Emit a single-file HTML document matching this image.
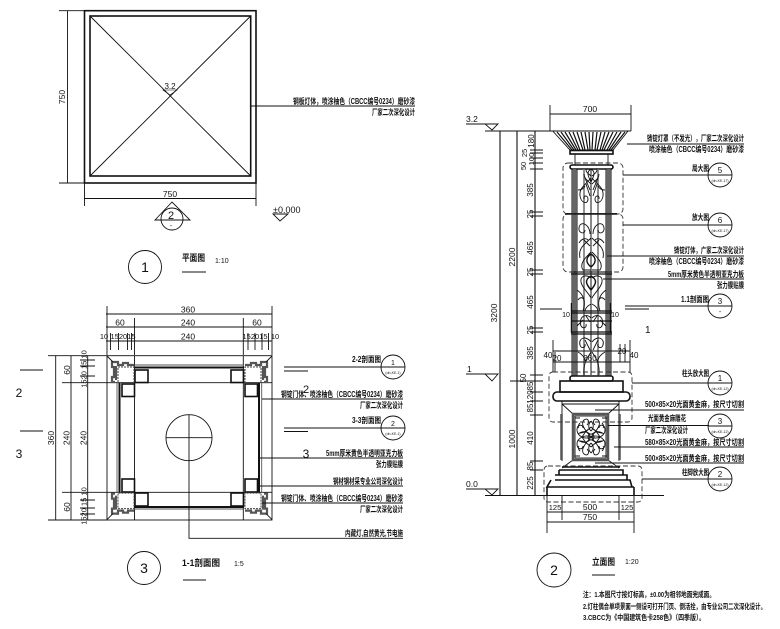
<!DOCTYPE html>
<html><head><meta charset="utf-8"><style>
html,body{margin:0;padding:0;background:#fff}
svg{display:block;filter:blur(.3px)}
line,path,rect,circle,polyline,polygon{fill:none;stroke:#111;stroke-width:.9}
text{fill:#111;font-family:"Liberation Sans","Noto Sans CJK SC",sans-serif;font-size:8.5px}
.c{font-family:"Liberation Sans","Noto Sans CJK SC",sans-serif;font-size:8px;font-weight:700;text-anchor:end}
.m{text-anchor:middle}
.n{font-size:14px;text-anchor:middle}
.s{font-size:3.5px;text-anchor:middle}
.th{stroke-width:1.6}
.d{stroke-dasharray:5 2.5;stroke:#333}
.g{stroke:#555;stroke-width:2.2}
</style></head><body>
<svg width="780" height="629" viewBox="0 0 780 629" xmlns="http://www.w3.org/2000/svg">
<defs>
<g id="post">
<path class="g" d="M111 362h7v3h5v-2h5v2h6M112 362v5h2v10h-2v5h3M116 366v14"/>
<rect x="118" y="367" width="16" height="15.5" style="stroke:#444;stroke-width:1" stroke-dasharray="2 1"/>
<line x1="107" y1="356" x2="113" y2="362"/>
</g>
<g id="rib">
<path d="M591 176C586 172 585 170 587 169M591 178C585 185 579 188 580 196C581 203 588 205 588 199C588 195 583 195 584 199M591 184C587 180 584 178 584 174M578 190C582 190 584 188 585 186M590 190L585 178M590 196L586 184"/>
<path d="M590 234C590 224 580 220 579 228C578 233 585 235 585 230M591 238C584 245 578 248 580 258M591 252C585 258 579 264 583 270H591M579 243C582 238 586 238 588 240M590 246L584 240"/>
<path d="M591 278C586 274 580 276 581 282C582 288 588 292 591 298M577 290C584 295 586 302 583 311M591 304C587 306 585 309 585 311M578 300C580 297 583 297 584 300"/>
<path d="M591 318C585 312 578 318 581 326C583 329 587 328 586 324M577 326L583 320M590 322L586 316"/>
<path d="M591 342C586 335 578 338 580 345C581 349 586 348 585 344M591 352C587 358 583 364 584 375M578 352C582 354 585 358 586 362M590 350L585 340"/>
</g>
<g id="orn">
<path d="M591 437C585 430 580 424 584 420C588 417 590 422 587 425M591 437C585 440 577 436 577 430C577 424 583 424 583 428M578 440C582 443 586 443 590 440M575 418L580 418M591 427C587 431 584 433 580 433M591 421C588 424 588 428 591 431M580 423C578 425 578 427 579 428M586 431L582 437"/>
</g>
</defs>

<!-- PLAN 1 -->
<rect x="84.5" y="10.7" width="171.5" height="172.3" class="th"/>
<rect x="90" y="16" width="160.7" height="160" class="th"/>
<path d="M90 16L250.7 176M250.7 16L90 176"/>
<line x1="59" y1="10.7" x2="84" y2="10.7"/><line x1="59" y1="183" x2="84" y2="183"/>
<line x1="67.5" y1="10.7" x2="67.5" y2="183"/>
<line x1="84.5" y1="183" x2="84.5" y2="206"/><line x1="256" y1="183" x2="256" y2="206"/>
<line x1="84" y1="198.5" x2="256" y2="198.5"/>
<text class="m" x="170" y="197">750</text>
<text class="m" transform="rotate(-90 65 97)" x="65" y="97">750</text>
<text class="m" x="170" y="89" style="font-size:8px">3.2</text>
<path d="M163 90H177L170 95Z" style="stroke-width:.6"/>
<line x1="251" y1="106" x2="415" y2="106"/>
<text class="c" x="415" y="104" textLength="122" lengthAdjust="spacingAndGlyphs">钢板灯体，喷涂柚色（CBCC编号0234）磨砂漆</text>
<text class="c" x="415" y="115" textLength="43" lengthAdjust="spacingAndGlyphs">厂家二次深化设计</text>
<path d="M172 202L155 220H190Z"/>
<circle cx="172" cy="219" r="11"/>
<text class="m" x="171" y="219" style="font-size:11px">2</text>
<text class="m" x="171" y="228" style="font-size:7px">-</text>
<text x="273" y="213" style="font-size:9px">±0.000</text>
<path d="M273 214H288L280 221Z"/>
<circle cx="145" cy="267" r="16.5"/>
<text class="n" x="145" y="272">1</text>
<text x="182" y="261" style="font-size:9px;font-weight:700" textLength="23" lengthAdjust="spacingAndGlyphs">平面图</text>
<line x1="182" y1="272" x2="206" y2="272"/>
<text x="215" y="263" style="font-size:7px">1:10</text>

<!-- SECTION 3 -->
<rect x="107" y="355.7" width="165" height="164.3"/>
<line x1="134.5" y1="355.7" x2="134.5" y2="520"/><line x1="243.3" y1="355.7" x2="243.3" y2="520"/>
<line x1="107" y1="382.7" x2="272" y2="382.7"/><line x1="107" y1="492.3" x2="272" y2="492.3"/>
<path d="M134 367.5H244M134 507H244M119.5 383V492M259 383V492" style="stroke-width:2"/>
<path d="M134 365H244M134 509H244M117 383V492M261.7 383V492" style="stroke:#555"/>
<rect x="135" y="370" width="13" height="12.5" class="th"/><rect x="231" y="370" width="12.5" height="12.5" class="th"/>
<rect x="135" y="493" width="13" height="13" class="th"/><rect x="231" y="493" width="12.5" height="13" class="th"/>
<rect x="122" y="384" width="12.5" height="12.5" class="th"/><rect x="122" y="479" width="12.5" height="13" class="th"/>
<rect x="245" y="384" width="12.5" height="12.5" class="th"/><rect x="245" y="479" width="12.5" height="13" class="th"/>
<use href="#post"/>
<use href="#post" transform="translate(379 0) scale(-1 1)"/>
<use href="#post" transform="translate(0 875.6) scale(1 -1)"/>
<use href="#post" transform="translate(379 875.6) scale(-1 -1)"/>
<circle cx="189" cy="437.7" r="23"/>
<line x1="166" y1="437.7" x2="212" y2="437.7"/>
<path d="M189 415V538.3H403"/>
<!-- top dims -->
<line x1="106" y1="314" x2="272" y2="314"/>
<line x1="106" y1="327" x2="272" y2="327"/>
<line x1="106" y1="341" x2="272" y2="341"/>
<path d="M107 306V355M272 306V355M134.5 318V355M243.3 318V355M110.5 333V350M118.5 333V350M127.5 333V350M131.5 333V350M248 333V350M255 333V350M262 333V350M268.5 333V350"/>
<text class="m" x="188" y="312.5">360</text>
<text class="m" x="120" y="325.5">60</text><text class="m" x="188" y="325.5">240</text><text class="m" x="257" y="325.5">60</text>
<text class="m" x="188" y="339.5">240</text>
<text class="m" x="104" y="339" style="font-size:7.5px">10</text>
<text class="m" x="123" y="339" style="font-size:7.5px">152015</text>
<text class="m" x="255" y="339" style="font-size:7.5px">152015</text>
<text class="m" x="275" y="339" style="font-size:7.5px">10</text>
<!-- left dims -->
<path d="M48 355.7H107M62 382.7H107M62 492.3H107M48 520H107"/>
<path d="M55.7 355.7V520M71 355.7V520M87.7 355.7V520"/>
<path d="M80 360H95M80 366H95M80 376H95M80 500H95M80 508H95M80 514H95"/>
<text class="m" transform="rotate(-90 54 438)" x="54" y="438">360</text>
<text class="m" transform="rotate(-90 69.5 438)" x="69.5" y="438">240</text>
<text class="m" transform="rotate(-90 86.5 438)" x="86.5" y="438">240</text>
<text class="m" transform="rotate(-90 70 370)" x="70" y="370">60</text>
<text class="m" transform="rotate(-90 70 507)" x="70" y="507">60</text>
<text class="m" transform="rotate(-90 86.5 369)" x="86.5" y="369" style="font-size:7.5px">1520 15 10</text>
<text class="m" transform="rotate(-90 86.5 506)" x="86.5" y="506" style="font-size:7.5px">1520 15 10</text>
<line x1="20" y1="370" x2="43" y2="370"/><line x1="20" y1="431" x2="43" y2="431"/>
<text class="n" x="19" y="397" style="font-size:12px">2</text>
<text class="n" x="19" y="458" style="font-size:12px">3</text>
<text class="n" x="306" y="393" style="font-size:11px">2</text>
<text class="n" x="306" y="458" style="font-size:12px">3</text>
<!-- section 3 leaders -->
<path d="M284 367H381M284 371H308M284 428H381M284 431.5H308" style="stroke-width:1.1"/>
<circle cx="393" cy="367" r="12"/><line x1="381" y1="367" x2="405" y2="367"/>
<circle cx="393" cy="428" r="12"/><line x1="381" y1="428" x2="405" y2="428"/>
<text class="n" x="393" y="365" style="font-size:7px">1</text><text class="s" x="393" y="374">(dn-KE-1)</text>
<text class="n" x="393" y="426" style="font-size:7px">2</text><text class="s" x="393" y="435">(dn-KE-1)</text>
<text class="c" x="381" y="362" textLength="29" lengthAdjust="spacingAndGlyphs">2-2剖面图</text>
<text class="c" x="381" y="423" textLength="29" lengthAdjust="spacingAndGlyphs">3-3剖面图</text>
<path d="M262 399H403M258 458H403M258 486H403M262 503H403"/>
<text class="c" x="403" y="397" textLength="122" lengthAdjust="spacingAndGlyphs">钢锭门体、喷涂柚色（CBCC编号0234）磨砂漆</text>
<text class="c" x="403" y="408" textLength="43" lengthAdjust="spacingAndGlyphs">厂家二次深化设计</text>
<text class="c" x="403" y="456" textLength="77" lengthAdjust="spacingAndGlyphs">5mm厚米黄色半透明亚克力板</text>
<text class="c" x="403" y="467" textLength="27" lengthAdjust="spacingAndGlyphs">张力膜贴膜</text>
<text class="c" x="403" y="484" textLength="70" lengthAdjust="spacingAndGlyphs">钢材钢材采专业公司深化设计</text>
<text class="c" x="403" y="501" textLength="122" lengthAdjust="spacingAndGlyphs">钢锭门体、喷涂柚色（CBCC编号0234）磨砂漆</text>
<text class="c" x="403" y="512" textLength="43" lengthAdjust="spacingAndGlyphs">厂家二次深化设计</text>
<text class="c" x="403" y="536" textLength="58" lengthAdjust="spacingAndGlyphs">内藏灯,自然黄光,节电施</text>
<circle cx="144" cy="568" r="16.5"/>
<text class="n" x="144" y="573">3</text>
<text x="182" y="566" style="font-size:9px;font-weight:700" textLength="38" lengthAdjust="spacingAndGlyphs">1-1剖面图</text>
<line x1="183" y1="580" x2="206" y2="580"/>
<text x="234" y="566" style="font-size:7px">1:5</text>

<!-- ELEVATION -->
<line x1="466" y1="124" x2="497" y2="124"/>
<path d="M485 124H498L492 130Z"/>
<text x="466" y="122">3.2</text>
<line x1="466" y1="374" x2="497" y2="374"/>
<path d="M485 374H498L492 381Z"/>
<text x="467" y="372">1</text>
<line x1="466" y1="489" x2="497" y2="489"/>
<path d="M485 489H498L492 495Z"/>
<text x="466" y="487">0.0</text>
<path d="M485 131H631M485 495.5H664" style="stroke-width:1.1"/>
<path d="M500 131V496M517 131V496M535 131V496" style="stroke-width:1.1"/>
<path d="M550 105V131M631 105V131M550 114H631"/>
<text class="m" x="590" y="112">700</text>
<text class="m" transform="rotate(-90 497 313)" x="497" y="313">3200</text>
<text class="m" transform="rotate(-90 515 257)" x="515" y="257">2200</text>
<text class="m" transform="rotate(-90 515 439)" x="515" y="439">1000</text>
<path d="M530 150H543M530 153H543M530 158H543M530 163H543M530 169H543M530 212H543M530 216H543M530 270H543M530 274H543M530 328H543M530 332H543M530 375H543M510 381H543M530 392H543M530 401H543M530 415H543M530 461H543M530 470H543"/>
<g>
<text class="m" transform="rotate(-90 534 141)" x="534" y="141" style="font-size:8px">180</text>
<text class="m" transform="rotate(-90 527 153)" x="527" y="153" style="font-size:7.5px">25</text>
<text class="m" transform="rotate(-90 534 159)" x="534" y="159" style="font-size:7.5px">100</text>
<text class="m" transform="rotate(-90 526 166)" x="526" y="166" style="font-size:7.5px">50</text>
<text class="m" transform="rotate(-90 533 190)" x="533" y="190" style="font-size:8px">385</text>
<text class="m" transform="rotate(-90 533 214)" x="533" y="214" style="font-size:8px">25</text>
<text class="m" transform="rotate(-90 533 248)" x="533" y="248" style="font-size:8px">465</text>
<text class="m" transform="rotate(-90 533 272)" x="533" y="272" style="font-size:8px">25</text>
<text class="m" transform="rotate(-90 533 302)" x="533" y="302" style="font-size:8px">465</text>
<text class="m" transform="rotate(-90 533 330)" x="533" y="330" style="font-size:8px">25</text>
<text class="m" transform="rotate(-90 533 353)" x="533" y="353" style="font-size:8px">385</text>
<text class="m" transform="rotate(-90 526 378)" x="526" y="378" style="font-size:8px">50</text>
<text class="m" transform="rotate(-90 533 386)" x="533" y="386" style="font-size:8px">85</text>
<text class="m" transform="rotate(-90 533 397)" x="533" y="397" style="font-size:8px">120</text>
<text class="m" transform="rotate(-90 533 408)" x="533" y="408" style="font-size:8px">85</text>
<text class="m" transform="rotate(-90 533 438)" x="533" y="438" style="font-size:8px">410</text>
<text class="m" transform="rotate(-90 533 466)" x="533" y="466" style="font-size:8px">85</text>
<text class="m" transform="rotate(-90 533 483)" x="533" y="483" style="font-size:8px">225</text>
</g>
<!-- cap -->
<path d="M552.7 131L570 150H613L628 131" />
<path d="M557 132L572 150M561 132L574 150M565 132L576 150M569 132L578 150M573 132L580 150M577 132L583 150M581 132L585 150M585 132L588 150M589 132L590 150M593 132L592 150M597 132L595 150M601 132L597 150M605 132L600 150M609 132L602 150M613 132L604 150M617 132L607 150M621 132L609 150M625 132L611 150" style="stroke-width:1.2"/>
<rect x="570" y="150.5" width="43" height="3.5" class="th"/>
<path d="M575 154V165M608 154V165"/>
<rect x="570" y="165" width="43" height="4" rx="2" class="th"/>
<!-- shaft -->
<path d="M574.5 169V376M608.5 169V376" style="stroke:#666;stroke-width:3.5"/>
<path d="M584 169V214M598 169V214M584 214V272M598 214V272M584 272V376M598 272V376" style="stroke:#777;stroke-width:1.6"/>
<path d="M572 169V376M577 169V376M606 169V376M611 169V376" style="stroke-width:1"/>
<rect x="565" y="213" width="52" height="1.8" style="fill:#111;stroke:none"/>
<path d="M571 272H612M571 274H612M571 311H612M571 313H612M571 321H612M571 332H612M571 334H612" style="stroke-width:1.2"/>
<path d="M571.5 303V333M610.5 303V333" style="stroke-width:1.4"/>
<g style="stroke-width:1.5">
<use href="#rib" style="stroke-width:1.5"/>
<use href="#rib" transform="translate(1183 0) scale(-1 1)"/>
</g>
<path d="M591 169V375" style="stroke-width:1"/>
<path d="M591 182C588 176 586 172 591 169C596 172 594 176 591 182Z"/>
<path d="M591 290C586 284 584 280 591 276C598 280 596 284 591 290ZM591 267C586 263 585 258 591 254C597 258 596 263 591 267Z" style="stroke-width:1.4"/>
<rect x="563" y="163" width="60" height="51" rx="5" class="d"/>
<rect x="563" y="214" width="60" height="58" rx="5" class="d"/>
<!-- inner dims -->
<path d="M553 351H630M553 362H630M553 340V372M630 340V372M555 352V372M620 344V362M625 344V362"/>
<text class="m" x="548" y="358" style="font-size:8px">40</text>
<text class="m" x="557" y="361" style="font-size:8px">20</text>
<text class="m" x="590" y="361" style="font-size:8px">360</text>
<text class="m" x="622" y="354" style="font-size:8px">20</text>
<text class="m" x="634" y="358" style="font-size:8px">40</text>
<text class="m" x="566" y="317" style="font-size:7px">10</text>
<text class="m" x="615" y="317" style="font-size:7px">10</text>
<text x="645" y="333" style="font-size:10px">1</text>
<!-- base -->
<rect x="570" y="376" width="43" height="5" rx="2" class="th"/>
<rect x="560" y="381" width="63" height="11" class="th"/>
<rect x="553" y="392" width="77" height="9" rx="4" class="th"/>
<path d="M562 401V461M619 401V461M562 401H619M562 404H619"/>
<path d="M561.5 414V460M619.5 414V460" style="stroke:#555;stroke-width:2.5"/>
<path d="M562 404L573 414M619 404L608 414M573 460L562 468M608 460L619 468"/>
<rect x="573" y="414" width="35" height="46" style="stroke-width:2.5;stroke:#555"/>
<rect x="575" y="416" width="31" height="42"/>
<g style="stroke-width:1.5">
<use href="#orn" style="stroke-width:1.5"/>
<use href="#orn" transform="translate(1182 0) scale(-1 1)"/>
<use href="#orn" transform="translate(0 874) scale(1 -1)"/>
<use href="#orn" transform="translate(1182 874) scale(-1 -1)"/>
</g>
<circle cx="591" cy="437" r="3"/>
<path d="M559 470H623V475M559 470V475M555 475H627V480M555 480H630L632 487M551 480L547 487H634M547 487V495.5M634 487V495.5M562 467H620" class="th"/>
<rect x="549" y="372" width="83" height="50" rx="4" class="d"/>
<rect x="544" y="466" width="98" height="36" rx="4" class="d"/>
<!-- bottom dims -->
<path d="M547 496V533M634 496V533M562 496V520M619 496V520M547 512H634M547 522H634"/>
<text class="m" x="555" y="510" style="font-size:7.5px">125</text>
<text class="m" x="590" y="510">500</text>
<text class="m" x="627" y="510" style="font-size:7.5px">125</text>
<text class="m" x="590" y="520">750</text>
<!-- elevation leaders -->
<path d="M627 144H744M623 175H709M623 225H709M607 256H744M603 279H744M625 306H709M625 309H649M632 383H709M595 410H744M608 425.5H709M614 447H744M595 463H744M642 479H709"/>
<path d="M540 309H562"/>
<g>
<circle cx="720" cy="175" r="12"/><line x1="708" y1="175" x2="732" y2="175"/>
<circle cx="720" cy="225" r="12"/><line x1="708" y1="225" x2="732" y2="225"/>
<circle cx="720" cy="306" r="12"/><line x1="708" y1="306" x2="732" y2="306"/>
<circle cx="720" cy="383" r="12"/><line x1="708" y1="383" x2="732" y2="383"/>
<circle cx="720" cy="426" r="12"/><line x1="708" y1="426" x2="732" y2="426"/>
<circle cx="720" cy="479" r="12"/><line x1="708" y1="479" x2="732" y2="479"/>
</g>
<g>
<text class="m" x="720" y="173" style="font-size:8px">5</text><text class="s" x="720" y="182">(dn-KE-17)</text>
<text class="m" x="720" y="223" style="font-size:8px">6</text><text class="s" x="720" y="232">(dn-KE-17)</text>
<text class="m" x="720" y="304" style="font-size:8px">3</text><text class="m" x="720" y="314" style="font-size:7px">-</text>
<text class="m" x="720" y="381" style="font-size:8px">1</text><text class="s" x="720" y="390">(dn-KE-12)</text>
<text class="m" x="720" y="424" style="font-size:8px">3</text><text class="s" x="720" y="433">(dn-KE-12)</text>
<text class="m" x="720" y="477" style="font-size:8px">2</text><text class="s" x="720" y="486">(dn-KE-12)</text>
</g>
<text class="c" x="744" y="141" textLength="97" lengthAdjust="spacingAndGlyphs">铸锭灯罩（不发光），厂家二次深化设计</text>
<text class="c" x="744" y="152" textLength="95" lengthAdjust="spacingAndGlyphs">喷涂柚色（CBCC编号0234）磨砂漆</text>
<text class="c" x="709" y="171" textLength="17" lengthAdjust="spacingAndGlyphs">局大图</text>
<text class="c" x="709" y="220" textLength="17" lengthAdjust="spacingAndGlyphs">放大图</text>
<text class="c" x="744" y="253" textLength="70" lengthAdjust="spacingAndGlyphs">铸锭灯体，广家二次深化设计</text>
<text class="c" x="744" y="264" textLength="95" lengthAdjust="spacingAndGlyphs">喷涂柚色（CBCC编号0234）磨砂漆</text>
<text class="c" x="744" y="277" textLength="76" lengthAdjust="spacingAndGlyphs">5mm厚米黄色半透明亚克力板</text>
<text class="c" x="744" y="288" textLength="27" lengthAdjust="spacingAndGlyphs">张力膜贴膜</text>
<text class="c" x="709" y="302" textLength="28" lengthAdjust="spacingAndGlyphs">1.1剖面图</text>
<text class="c" x="709" y="376" textLength="27" lengthAdjust="spacingAndGlyphs">柱头放大图</text>
<text class="c" x="744" y="407" textLength="99" lengthAdjust="spacingAndGlyphs">500×85×20光面黄金麻，按尺寸切割</text>
<text class="c" x="686" y="421" textLength="38" lengthAdjust="spacingAndGlyphs">光面黄金麻雕花</text>
<text class="c" x="688" y="433" textLength="43" lengthAdjust="spacingAndGlyphs">厂家二次深化设计</text>
<text class="c" x="744" y="445" textLength="99" lengthAdjust="spacingAndGlyphs">580×85×20光面黄金麻，按尺寸切割</text>
<text class="c" x="744" y="461" textLength="99" lengthAdjust="spacingAndGlyphs">500×85×20光面黄金麻，按尺寸切割</text>
<text class="c" x="709" y="475" textLength="27" lengthAdjust="spacingAndGlyphs">柱脚放大图</text>
<circle cx="554" cy="570" r="17"/>
<text class="n" x="554" y="575">2</text>
<text x="592" y="565" style="font-size:9px;font-weight:700" textLength="23" lengthAdjust="spacingAndGlyphs">立面图</text>
<line x1="592" y1="575" x2="615" y2="575"/>
<text x="625" y="564" style="font-size:7px">1:20</text>
<text x="583" y="597" style="font-size:7.5px;font-weight:700" textLength="132" lengthAdjust="spacingAndGlyphs">注：1.本图尺寸按灯标高，±0.00为相邻地面完成面。</text>
<text x="583" y="609" style="font-size:7.5px;font-weight:700" textLength="183" lengthAdjust="spacingAndGlyphs">2.灯柱偶合单项景面一侧设可打开门页、倒活拴，由专业公司二次深化设计。</text>
<text x="583" y="620" style="font-size:7.5px;font-weight:700" textLength="122" lengthAdjust="spacingAndGlyphs">3.CBCC为《中国建筑色卡258色》（四季版）。</text>
</svg>
</body></html>
